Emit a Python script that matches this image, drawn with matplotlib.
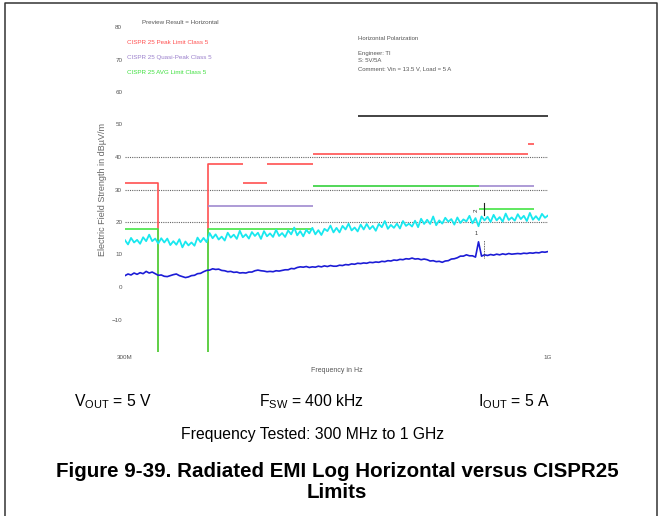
"""
Radiated EMI (log, horizontal antenna) versus CISPR25 limits, 300 MHz - 1 GHz.

Outputs:
    - out.png
"""

import numpy as np
import matplotlib
matplotlib.use("Agg")
import matplotlib.pyplot as plt
from matplotlib.lines import Line2D
from matplotlib.ticker import FixedLocator, NullLocator

# --- data -----------------------------------------------------------------
F_START, F_STOP = 300.0, 1000.0  # MHz
Y_MIN, Y_MAX = -20, 80           # dBuV/m
Y_TICKS = [-10, 0, 10, 20, 30, 40, 50, 60, 70, 80]
X_TICKS = [300, 1000]
X_TICK_LABELS = ["300M", "1G"]
GRID_LEVELS = [20, 30, 40]

# limit lines: (f_start MHz, f_stop MHz, level dBuV/m)
PEAK_LIMIT = [(300, 330, 32), (380, 420, 38), (420, 450, 32), (450, 512, 38),
              (512, 944, 41), (944, 960, 44)]
QP_LIMIT = [(380, 512, 25), (512, 960, 31)]
AVG_LIMIT = [(300, 330, 18), (380, 512, 18), (512, 822, 31), (822, 960, 24)]
BLACK_LIMIT = [(582, 1000, 52.6)]

# peak trace (cyan), sweep points evenly spaced on the log axis
PEAK_TRACE = [
    14.4, 13.1, 15.1, 13.7, 14.5, 13.3, 15.3, 14.1, 16.1, 14.1,
    14.9, 13.4, 15.0, 13.7, 14.9, 12.9, 14.1, 13.0, 14.7, 12.2,
    14.0, 12.8, 13.7, 12.7, 15.2, 13.8, 15.1, 13.8, 16.6, 15.0,
    16.2, 14.6, 15.5, 14.3, 16.7, 15.2, 16.1, 14.8, 17.3, 15.3,
    16.2, 14.9, 16.9, 15.7, 16.7, 14.8, 17.2, 15.6, 16.5, 15.4,
    17.6, 15.7, 16.6, 15.4, 17.4, 16.2, 18.3, 15.9, 17.2, 15.6,
    17.6, 16.5, 18.2, 16.2, 17.5, 16.0, 17.9, 17.2, 18.9, 16.8,
    18.2, 16.8, 18.8, 17.7, 19.5, 17.4, 18.3, 17.1, 19.2, 17.7,
    19.4, 17.8, 18.8, 17.3, 19.4, 18.4, 20.3, 17.9, 19.1, 18.2,
    19.5, 18.0, 20.3, 18.8, 19.5, 18.6, 20.4, 18.4, 21.0, 19.4,
    20.7, 19.4, 21.7, 19.0, 20.5, 19.5, 21.3, 20.1, 20.9, 19.2,
    21.4, 19.7, 20.8, 20.2, 21.9, 19.6, 21.2, 18.7, 21.7, 20.5,
    21.6, 20.0, 22.2, 20.5, 21.5, 20.1, 22.6, 20.6, 21.4, 20.4,
    22.4, 20.9, 21.9, 20.3, 22.8, 20.7, 21.8, 20.6, 22.5, 21.3, 22.0,
]

# average trace (blue)
AVG_TRACE = [
    3.5, 4.0, 3.7, 4.3, 3.9, 4.4, 4.1, 4.8, 4.3, 4.6,
    4.1, 3.6, 3.7, 3.3, 3.2, 3.5, 3.8, 4.0, 3.5, 3.2,
    2.9, 3.1, 3.5, 3.6, 4.1, 4.2, 4.7, 5.1, 5.2, 5.6,
    5.4, 5.5, 5.1, 5.0, 4.7, 4.8, 4.5, 4.6, 4.3, 4.4,
    4.3, 4.6, 4.6, 5.0, 5.2, 5.0, 4.9, 4.7, 4.8, 4.7,
    5.0, 4.9, 5.1, 5.3, 5.3, 5.7, 5.6, 6.0, 6.2, 6.1,
    6.3, 6.0, 6.2, 6.1, 6.4, 6.2, 6.5, 6.3, 6.6, 6.4,
    6.4, 6.7, 6.6, 6.9, 6.8, 7.1, 7.0, 7.3, 7.2, 7.4,
    7.3, 7.6, 7.5, 7.7, 7.6, 7.9, 7.8, 8.1, 8.0, 8.3,
    8.2, 8.5, 8.4, 8.7, 8.6, 8.9, 8.6, 8.7, 8.4, 8.6,
    8.4, 8.0, 8.1, 7.8, 7.9, 7.6, 8.0, 8.1, 8.6, 8.7,
    9.0, 9.5, 9.5, 9.9, 9.6, 9.6, 9.2, 13.9, 9.5, 9.9,
    9.7, 10.0, 9.8, 10.1, 9.9, 10.2, 10.0, 10.3, 10.1, 10.2,
    10.3, 10.2, 10.4, 10.3, 10.5, 10.4, 10.6, 10.5, 10.8, 10.7, 10.9,
]

# markers: (label, frequency MHz, level)
MARKERS = [("1", 815, 16.6), ("2", 815, 23.7)]
MARKER_FREQ = 833

LEGEND_LEFT = [
    ("Preview Result = Horizontal", "#555555"),
    ("CISPR 25 Peak Limit Class 5", "#ff5050"),
    ("CISPR 25 Quasi-Peak Class 5", "#9b80cc"),
    ("CISPR 25 AVG Limit Class 5", "#40e040"),
]
LEGEND_RIGHT = [
    "Horizontal Polarization",
    "Engineer: TI",
    "S: 5V/5A",
    "Comment: Vin = 13.5 V, Load = 5 A",
]

W, H = 661, 516


def px(x, y):
    """Pixel position -> figure fraction."""
    return x / W, 1 - y / H


def limit_path(bands, floor):
    """Step path of a limit line; it falls to the floor between separate bands."""
    xs, ys = [], []
    for k, (f0, f1, lvl) in enumerate(bands):
        if k > 0 and bands[k - 1][1] < f0:
            xs.append(f0)
            ys.append(floor)
        xs += [f0, f1]
        ys += [lvl, lvl]
        if k < len(bands) - 1 and bands[k + 1][0] > f1:
            xs.append(f1)
            ys.append(floor)
        xs.append(np.nan)
        ys.append(np.nan)
    return xs, ys


plt.rcParams["font.family"] = ["Liberation Sans", "DejaVu Sans"]
plt.rcParams["mathtext.default"] = "regular"

fig = plt.figure(figsize=(W / 100, H / 100), dpi=100)

# page frame
frame_x = [5, 5, 657, 657]
frame_y = [516, 2.5, 2.5, 516]
fx, fy = zip(*[px(a, b) for a, b in zip(frame_x, frame_y)])
fig.add_artist(Line2D(fx, fy, color="#333333", lw=1.1, transform=fig.transFigure))

ax = fig.add_axes([125 / W, (H - 352) / H, 423 / W, 325 / H])
ax.set_xscale("log")
ax.set_xlim(F_START, F_STOP)
ax.set_ylim(Y_MIN, Y_MAX)
for s in ax.spines.values():
    s.set_visible(False)
ax.xaxis.set_major_locator(FixedLocator(X_TICKS))
ax.xaxis.set_minor_locator(NullLocator())
ax.set_xticklabels(X_TICK_LABELS)
ax.set_yticks(Y_TICKS)
ax.tick_params(length=0, labelsize=4.5, labelcolor="#555555", pad=2)

for lvl in GRID_LEVELS:
    ax.axhline(lvl, color="#666666", lw=0.8, ls=(0, (1, 1)))

for bands, color in [(PEAK_LIMIT, "#ff5050"), (QP_LIMIT, "#a08ad0"),
                     (AVG_LIMIT, "#44e444"), (BLACK_LIMIT, "#222222")]:
    lx, ly = limit_path(bands, Y_MIN)
    ax.plot(lx, ly, color=color, lw=1.2, solid_capstyle="butt", clip_on=False)

f_pk = np.geomspace(F_START, F_STOP, len(PEAK_TRACE))
f_av = np.geomspace(F_START, F_STOP, len(AVG_TRACE))
ax.plot(f_pk, PEAK_TRACE, color="#19e8ef", lw=1.3)
ax.plot(f_av, AVG_TRACE, color="#1c1cd6", lw=1.2)

# marker glyphs
lab1, f1, l1 = MARKERS[0]
lab2, f2, l2 = MARKERS[1]
ax.text(f1, l1, lab1, fontsize=4, color="#333333", ha="center", va="center")
ax.text(f2, l2, lab2, fontsize=4.5, color="#333333", ha="center", va="center",
        rotation=90)
ax.plot([MARKER_FREQ, MARKER_FREQ], [l2 - 1.5, l2 + 2], color="#222222", lw=0.8)
ax.plot([MARKER_FREQ, MARKER_FREQ], [l1 - 7.6, l1 - 2], color="#333333", lw=0.6,
        ls=(0, (1, 1)))

ax.set_xlabel("Frequency in Hz", fontsize=5, color="#555555", labelpad=5)
ax.set_ylabel("Electric Field Strength in dBµV/m", fontsize=6.5,
              color="#666666", labelpad=3)

# legend / header texts inside the plot window
for (txt, color), y in zip(LEGEND_LEFT, [22, 43, 57, 72]):
    x0 = 142 if y == 22 else 127
    fig.text(*px(x0, y), txt, fontsize=4.5, color=color, va="center")
for txt, y in zip(LEGEND_RIGHT, [38, 53, 61, 69]):
    fig.text(*px(358, y), txt, fontsize=4.3, color="#555555", va="center")

# caption
fig.text(*px(113, 402), r"V$_{OUT}$ = 5 V", fontsize=11.3, ha="center", va="center")
fig.text(*px(311, 402), r"F$_{SW}$ = 400 kHz", fontsize=11.3, ha="center", va="center")
fig.text(*px(514, 402), r"I$_{OUT}$ = 5 A", fontsize=11.3, ha="center", va="center")
fig.text(*px(313, 435), "Frequency Tested: 300 MHz to 1 GHz", fontsize=11.3,
         ha="center", va="center")
fig.text(*px(337, 477), "Figure 9-39. Radiated EMI Log Horizontal versus CISPR25",
         fontsize=14.8, fontweight="bold", ha="center", va="baseline")
fig.text(*px(337, 498), "Limits", fontsize=14.8, fontweight="bold",
         ha="center", va="baseline")

fig.savefig("out.png", dpi=100)
plt.close(fig)
